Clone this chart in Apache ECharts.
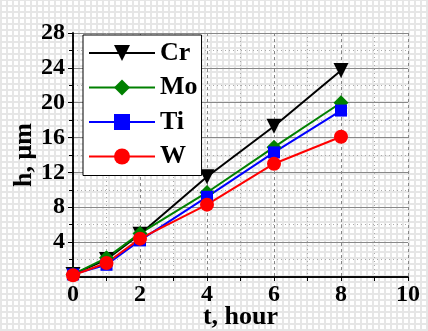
<!DOCTYPE html>
<html>
<head>
<meta charset="utf-8">
<script src="https://cdn.jsdelivr.net/npm/echarts@6/dist/echarts.min.js"></script>
<style>
    html, body { margin: 0; padding: 0; }
    body {
        width: 428px; height: 331px;
        background-color: #fff;
        background-image:
            repeating-linear-gradient(0deg, #e6e6e6 0px, #e6e6e6 2px, transparent 2px, transparent 6px),
            repeating-linear-gradient(90deg, #e6e6e6 0px, #e6e6e6 2px, transparent 2px, transparent 6px);
    }
    #chart { width: 428px; height: 331px; }
</style>
</head>
<body>
<div id="chart"></div>
<script>
    // 数据
    var hours = [0, 1, 2, 4, 6, 8];
    var crData = [0.3, 2.0, 4.9, 11.5, 17.3, 23.7];
    var moData = [0.3, 2.2, 5.0, 9.7, 14.9, 20.0];
    var tiData = [0.3, 1.4, 4.2, 9.2, 14.3, 19.1];
    var wData = [0.2, 1.6, 4.4, 8.3, 13.0, 16.1];
    var xTicks = [0, 2, 4, 6, 8, 10];
    var yTicks = [4, 8, 12, 16, 20, 24, 28];

    var font = 'Liberation Serif';

    function pairs(arr) {
        return hours.map(function (h, i) { return [h, arr[i]]; });
    }

    var myEcharts = echarts.init(document.getElementById('chart'));
    myEcharts.setOption({
        animation: false,
        grid: { left: 73, top: 33, right: 20, bottom: 54, show: false, outerBoundsMode: 'none', containLabel: false },
        legend: {
            orient: 'vertical',
            left: 83, top: 35,
            backgroundColor: '#fff',
            borderColor: '#000',
            borderWidth: 1,
            padding: [5, 4, 6, 5],
            itemWidth: 66, itemHeight: 20,
            itemGap: 8.5,
            textStyle: { fontFamily: font, fontWeight: 'bold', fontSize: 26, color: '#000' },
            data: ['Cr', 'Mo', 'Ti', 'W']
        },
        xAxis: [{
            type: 'value', min: 0, max: 10, interval: 2,
            name: 't, hour', nameLocation: 'middle', nameGap: 27, nameMoveOverlap: false,
            nameTextStyle: { fontFamily: font, fontWeight: 'bold', fontSize: 26, color: '#000' },
            axisLine: { onZero: false, lineStyle: { color: '#000', width: 1.5 } },
            axisTick: { show: true, length: 4, lineStyle: { color: '#000' } },
            minorTick: { show: true, splitNumber: 2, length: 4, lineStyle: { color: '#000' } },
            axisLabel: { fontFamily: font, fontWeight: 'bold', fontSize: 24, color: '#000', margin: 6,
                customValues: xTicks },
            splitLine: { show: true, lineStyle: { color: '#888', type: [3, 3], width: 1 } },
            minorSplitLine: { show: true, lineStyle: { color: '#aaa', type: [1, 3], width: 1 } }
        }, {
            type: 'value', min: 0, max: 10, interval: 2, position: 'top',
            axisLine: { show: true, lineStyle: { color: '#000', width: 1.5 } },
            axisTick: { show: true, inside: true, length: 4, lineStyle: { color: '#000' } },
            minorTick: { show: true, splitNumber: 2, length: 4, lineStyle: { color: '#000' } },
            axisLabel: { show: false },
            splitLine: { show: false }
        }],
        yAxis: [{
            type: 'value', min: 0, max: 28, interval: 4,
            name: 'h, μm', nameLocation: 'middle', nameGap: 36, nameMoveOverlap: false,
            nameTextStyle: { fontFamily: font, fontWeight: 'bold', fontSize: 26, color: '#000' },
            axisLine: { show: true, onZero: false, lineStyle: { color: '#000', width: 1.5 } },
            axisTick: { show: true, length: 5, lineStyle: { color: '#000' } },
            minorTick: { show: true, splitNumber: 2, length: 4, lineStyle: { color: '#000' } },
            axisLabel: { fontFamily: font, fontWeight: 'bold', fontSize: 24, color: '#000', margin: 8,
                customValues: yTicks },
            splitLine: { show: true, lineStyle: { color: '#888', width: 1 } },
            minorSplitLine: { show: true, lineStyle: { color: '#aaa', type: [1, 3], width: 1 } }
        }, {
            type: 'value', min: 0, max: 28, interval: 4, position: 'right',
            axisLine: { show: true, lineStyle: { color: '#000', width: 1.5 } },
            axisTick: { show: true, inside: true, length: 4, lineStyle: { color: '#000' } },
            minorTick: { show: true, splitNumber: 2, length: 4, lineStyle: { color: '#000' } },
            axisLabel: { show: false },
            splitLine: { show: false }
        }],
        series: [{
            name: 'Cr', type: 'line', data: pairs(crData),
            symbol: 'triangle', symbolRotate: 180, symbolSize: 15,
            lineStyle: { color: '#000', width: 2 }, itemStyle: { color: '#000' }
        }, {
            name: 'Mo', type: 'line', data: pairs(moData),
            symbol: 'diamond', symbolSize: 15,
            lineStyle: { color: '#008000', width: 2 }, itemStyle: { color: '#008000' }
        }, {
            name: 'Ti', type: 'line', data: pairs(tiData),
            symbol: 'rect', symbolSize: 12,
            lineStyle: { color: '#0000ff', width: 2 }, itemStyle: { color: '#0000ff' }
        }, {
            name: 'W', type: 'line', data: pairs(wData),
            symbol: 'circle', symbolSize: 14,
            lineStyle: { color: '#ff0000', width: 2 }, itemStyle: { color: '#ff0000' }
        }]
    });
</script>
</body>
</html>
